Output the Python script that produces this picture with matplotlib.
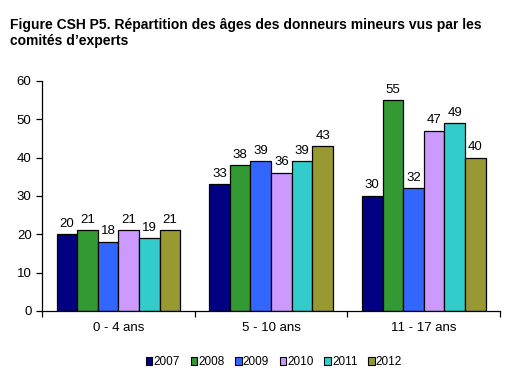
import numpy as np
import matplotlib
matplotlib.use("Agg")
import matplotlib.pyplot as plt

plt.rcParams['font.family'] = ['Liberation Sans', 'DejaVu Sans']

categories = ["0 - 4 ans", "5 - 10 ans", "11 - 17 ans"]
years = ["2007", "2008", "2009", "2010", "2011", "2012"]
values = {
    "2007": [20, 33, 30],
    "2008": [21, 38, 55],
    "2009": [18, 39, 32],
    "2010": [21, 36, 47],
    "2011": [19, 39, 49],
    "2012": [21, 43, 40],
}
colors = ["#000080", "#339933", "#3366FF", "#CC99FF", "#33CCCC", "#999933"]

fig = plt.figure(figsize=(5.15, 3.8), dpi=100)
ax = fig.add_axes([0.0816, 0.1816, 0.8894, 0.6054])

x = np.arange(len(categories))
w = 0.135
for i, yr in enumerate(years):
    pos = x + (i - 2.5) * w
    bars = ax.bar(pos, values[yr], width=w, color=colors[i], edgecolor="black",
                  linewidth=0.9, label=yr)
    for b, v in zip(bars, values[yr]):
        ax.text(b.get_x() + b.get_width() / 2, v + 1.2, str(v), ha="center",
                va="bottom", fontsize=9.5)

ax.set_xlim(-0.5, 2.5)
ax.set_ylim(0, 60)
ax.set_yticks(range(0, 61, 10))
ax.tick_params(axis="y", labelsize=9.5, length=4, direction="out", width=0.9)
ax.set_xticks([-0.5, 0.5, 1.5, 2.5])
ax.set_xticklabels([])
ax.tick_params(axis="x", length=4, direction="out", width=0.9)
for xi, c in zip(x, categories):
    ax.text(xi, -3.0, c, ha="center", va="top", fontsize=9.5)

ax.spines["top"].set_visible(False)
ax.spines["right"].set_visible(False)
ax.spines["left"].set_linewidth(0.9)
ax.spines["bottom"].set_linewidth(0.9)

fig.text(0.019, 0.952, "Figure CSH P5. Répartition des âges des donneurs mineurs vus par les\ncomités d\u2019experts",
         ha="left", va="top", fontsize=10, fontweight="bold", linespacing=1.15)

leg = fig.legend(loc="center", bbox_to_anchor=(0.532, 0.047), ncol=6, frameon=False,
                 fontsize=8.5, handlelength=0.55, handleheight=0.55, handletextpad=0.1,
                 columnspacing=0.9)
for h in leg.legend_handles:
    h.set_linewidth(0.8)

fig.savefig("out.png", dpi=100)
